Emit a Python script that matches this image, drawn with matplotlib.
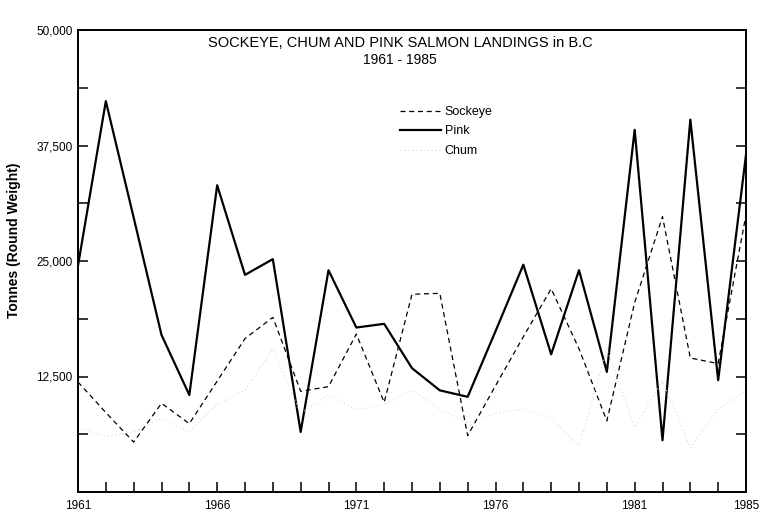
import matplotlib
matplotlib.use('Agg')
import matplotlib.pyplot as plt
from matplotlib.ticker import FuncFormatter

plt.rcParams['font.family'] = ['Liberation Sans', 'DejaVu Sans']

# 数据 (tonnes, round weight)
years = list(range(1961, 1986))
pink = [24500, 42300, 29700, 17000, 10500, 33200, 23500, 25200, 6500, 24000,
        17800, 18200, 13400, 11000, 10300, 17400, 24600, 14900, 24000, 13000,
        39200, 5600, 40300, 12100, 36500]
sockeye = [11900, 8600, 5400, 9600, 7400, 12000, 16600, 18900, 10900, 11400,
           17100, 9700, 21400, 21500, 6100, 11500, 16800, 22000, 15500, 7700,
           20500, 29800, 14500, 13900, 30000]
chum = [7000, 6000, 6500, 8000, 6500, 9500, 11000, 15500, 8500, 10500,
        8900, 9500, 11000, 9000, 7500, 8500, 9000, 8000, 4900, 15500,
        7000, 12000, 4800, 9000, 11000]

year_labels = ['1961', '1966', '1971', '1976', '1981', '1985']
y_major = [12500, 25000, 37500, 50000]
y_minor = [6250, 18750, 31250, 43750]

fig = plt.figure(figsize=(7.63, 5.27), dpi=100)
ax = fig.add_axes([78 / 763, 1 - 492 / 527, 668 / 763, 462 / 527])

ax.plot(years, sockeye, color='black', lw=0.9, ls=(0, (4, 3)), label='Sockeye')
ax.plot(years, pink, color='black', lw=1.6, label='Pink')
ax.plot(years, chum, color='#d8d8d8', lw=0.8, ls=(0, (1, 2.5)), label='Chum')

ax.set_xlim(1961, 1985)
ax.set_ylim(0, 50000)

# x轴刻度 每年一个, 只标部分年份
ax.set_xticks(years)
ax.set_xticklabels([str(y) if str(y) in year_labels else '' for y in years])
ax.set_yticks(y_major)
ax.set_yticks(y_minor, minor=True)
ax.yaxis.set_major_formatter(FuncFormatter(lambda v, p: '{:,.0f}'.format(v)))

ax.tick_params(axis='both', direction='in', length=7, width=1.1, color='black')
ax.tick_params(axis='y', which='both', right=True, direction='in', length=7, width=1.1,
               labelsize=8.5, pad=4)
ax.tick_params(axis='x', labelsize=8.5, pad=6)

for s in ax.spines.values():
    s.set_linewidth(1.4)

ax.set_ylabel('Tonnes (Round Weight)', fontsize=10, fontweight='bold')
ax.yaxis.set_label_coords(-0.085, 0.545)

# 标题放在图内
ax.text(0.482, 0.972, 'SOCKEYE, CHUM AND PINK SALMON LANDINGS in B.C',
        transform=ax.transAxes, ha='center', va='center', fontsize=10.5)
ax.text(0.482, 0.936, '1961 - 1985', transform=ax.transAxes,
        ha='center', va='center', fontsize=10)

ax.legend(loc='upper left', bbox_to_anchor=(0.465, 0.86), frameon=False,
          fontsize=9, handlelength=3.3, handletextpad=0.3, labelspacing=0.6)

fig.savefig('out.png', dpi=100)
